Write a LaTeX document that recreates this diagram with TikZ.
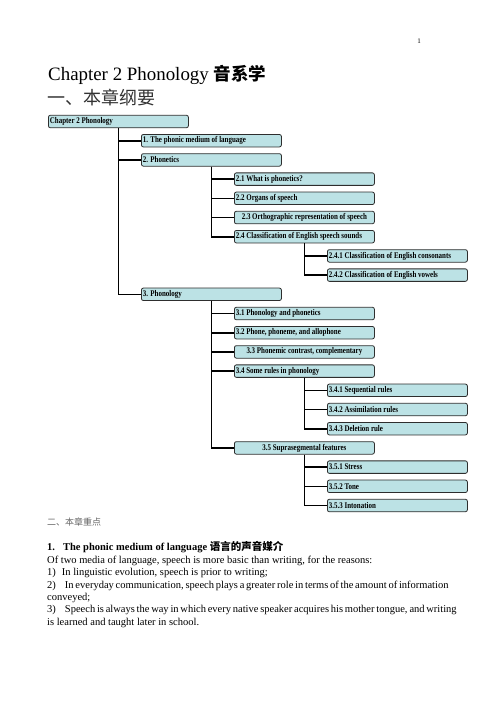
\documentclass[tikz,border=0pt]{standalone}
\usepackage{fontspec}
\setmainfont{Liberation Serif}
\newfontfamily\cjk{Noto Sans CJK SC}
\newfontface\boxfont[FakeStretch=0.8]{Liberation Serif Bold}
\definecolor{boxfill}{HTML}{BCE2E5}
\definecolor{boxline}{HTML}{2E2E2E}
\newcommand{\lbx}[1]{\makebox[137pt][l]{#1}}
\newcommand{\cbx}[1]{\makebox[137pt][c]{#1}}
\begin{document}
\begin{tikzpicture}[x=1pt,y=-1pt,
  box/.style={draw=boxline, fill=boxfill, rounded corners=2pt, line width=0.8pt,
    minimum height=12.5pt, inner xsep=1.5pt, inner ysep=0pt,
    font=\boxfont\fontsize{8.7}{9}\selectfont, anchor=west},
  link/.style={line width=1.6pt, black},
  txt/.style={anchor=base west, inner sep=0pt, font=\fontsize{10.5}{12}\selectfont}]
\useasboundingbox (0,0) rectangle (496,702);
\fill[white] (0,0) rectangle (496,702);

\node[anchor=base, inner sep=0pt, font=\fontsize{7}{8}\selectfont] (pg) at (419,43) {1};
\node[anchor=base west, inner sep=0pt, font=\fontsize{18.9}{22}\selectfont] (title) at (48,80)
  {Chapter 2 Phonology {\cjk\bfseries\fontsize{17.5}{20}\selectfont 音系学}};
\node[anchor=base west, inner sep=0pt, font=\cjk\fontsize{18}{20}\selectfont, text=black!80] (sub) at (47,104)
  {一、本章纲要};

% boxes
\node[box] (ch) at (48,121.5) {\lbx{Chapter 2 Phonology}};
\node[box] (a1) at (141,140.7) {\lbx{1. The phonic medium of language}};
\node[box] (a2) at (141,159.9) {\lbx{2. Phonetics}};
\node[box] (b21) at (234,179.1) {\lbx{2.1 What is phonetics?}};
\node[box] (b22) at (234,198.3) {\lbx{2.2 Organs of speech}};
\node[box] (b23) at (234,217.5) {\cbx{2.3 Orthographic representation of speech}};
\node[box] (b24) at (234,236.7) {\lbx{2.4 Classification of English speech sounds}};
\node[box] (c241) at (327,255.9) {\lbx{2.4.1 Classification of English consonants}};
\node[box] (c242) at (327,275.1) {\lbx{2.4.2 Classification of English vowels}};
\node[box] (a3) at (141,294.3) {\lbx{3. Phonology}};
\node[box] (b31) at (234,313.5) {\lbx{3.1 Phonology and phonetics}};
\node[box] (b32) at (234,332.7) {\lbx{3.2 Phone, phoneme, and allophone}};
\node[box] (b33) at (234,351.9) {\cbx{3.3 Phonemic contrast, complementary}};
\node[box] (b34) at (234,371.1) {\lbx{3.4 Some rules in phonology}};
\node[box] (c341) at (327,390.3) {\lbx{3.4.1 Sequential rules}};
\node[box] (c342) at (327,409.5) {\lbx{3.4.2 Assimilation rules}};
\node[box] (c343) at (327,428.7) {\lbx{3.4.3 Deletion rule}};
\node[box] (b35) at (234,447.9) {\cbx{3.5 Suprasegmental features}};
\node[box] (c351) at (327,467.1) {\lbx{3.5.1 Stress}};
\node[box] (c352) at (327,486.3) {\lbx{3.5.2 Tone}};
\node[box] (c353) at (327,505.5) {\lbx{3.5.3 Intonation}};

% connectors
\foreach \p/\c in {ch/a1, ch/a2, ch/a3,
                   a2/b21, a2/b22, a2/b23, a2/b24,
                   b24/c241, b24/c242,
                   a3/b31, a3/b32, a3/b33, a3/b34, a3/b35,
                   b34/c341, b34/c342, b34/c343,
                   b35/c351, b35/c352, b35/c353}
  \draw[link] (\p.south) |- (\c.west);

% lower text
\node[anchor=base west, inner sep=0pt, font=\cjk\fontsize{9}{10}\selectfont, text=black!60] (h2) at (47,525) {二、本章重点};
\node[txt, font=\bfseries\fontsize{10.5}{12}\selectfont] (s1) at (47,550)
  {1.\hspace{8pt}The phonic medium of language {\cjk\bfseries 语言的声音媒介}};
\node[txt] (l1) at (47,563.5) {Of two media of language, speech is more basic than writing, for the reasons:};
\node[txt] (l2) at (47,575.5) {1)\hspace{6pt}In linguistic evolution, speech is prior to writing;};
\node[txt] (l3) at (47,588) {\hbox to 374pt{2)\hspace{9pt}In everyday communication, speech plays a greater role in terms of the amount of information}};
\node[txt] (l4) at (47,600.5) {conveyed;};
\node[txt] (l5) at (47,612.5) {\hbox to 374pt{3)\hspace{9pt}Speech is always the way in which every native speaker acquires his mother tongue, and writing}};
\node[txt] (l6) at (47,625.5) {is learned and taught later in school.};
\end{tikzpicture}
\end{document}
